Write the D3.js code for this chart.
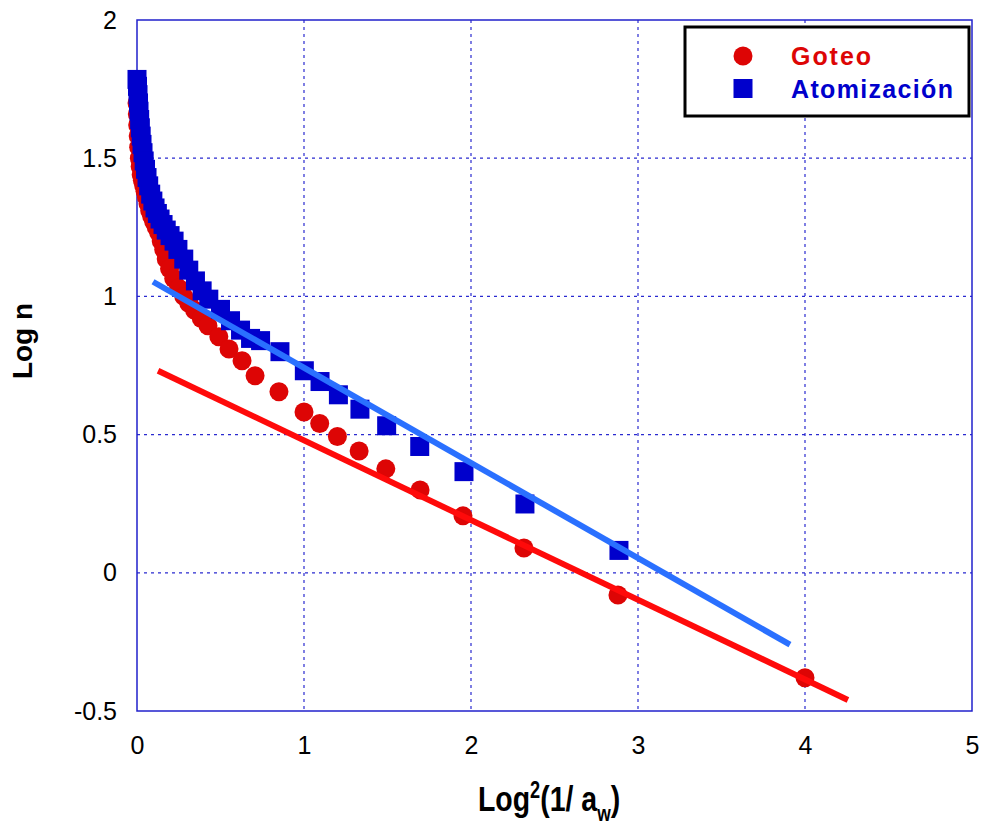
<!DOCTYPE html>
<html><head><meta charset="utf-8">
<script src="https://cdn.jsdelivr.net/npm/d3@7"></script>
<style>body{margin:0;background:#fff}svg{display:block}</style>
</head><body>
<svg id="c" width="983" height="829"></svg>
<script>
// Data
const xTicks = [0, 1, 2, 3, 4, 5];
const yTicks = [-0.5, 0, 0.5, 1, 1.5, 2];
const seriesNames = ["Goteo", "Atomización"];

const goteoX = [0.000,0.002,0.004,0.007,0.010,0.014,0.019,0.025,0.032,0.040,0.048,0.056,0.066,0.076,0.088,0.100,0.115,0.130,0.145,0.160,0.175,0.195,0.220,0.250,0.280,0.310,0.345,0.385,0.425,0.490,0.551,0.629,0.707,0.850,1.000,1.094,1.200,1.330,1.490,1.695,1.952,2.317,2.880,4.000];
const goteoY = [1.700,1.660,1.620,1.580,1.540,1.500,1.470,1.440,1.420,1.400,1.380,1.360,1.335,1.310,1.290,1.270,1.250,1.230,1.200,1.170,1.135,1.100,1.065,1.030,1.000,0.975,0.950,0.920,0.894,0.854,0.810,0.767,0.713,0.655,0.582,0.540,0.493,0.441,0.376,0.300,0.206,0.090,-0.080,-0.380];

const atomX = [0.000,0.003,0.006,0.009,0.012,0.016,0.020,0.025,0.030,0.036,0.043,0.051,0.060,0.070,0.082,0.095,0.108,0.122,0.138,0.156,0.175,0.198,0.222,0.245,0.280,0.310,0.350,0.390,0.430,0.500,0.560,0.620,0.680,0.740,0.856,1.002,1.096,1.206,1.335,1.495,1.693,1.958,2.323,2.886];
const atomY = [1.785,1.760,1.730,1.700,1.670,1.640,1.610,1.580,1.550,1.520,1.490,1.460,1.430,1.400,1.370,1.345,1.320,1.300,1.280,1.260,1.240,1.220,1.200,1.170,1.135,1.095,1.056,1.020,0.990,0.953,0.912,0.878,0.848,0.840,0.800,0.731,0.692,0.644,0.592,0.532,0.457,0.366,0.249,0.081];

// Fitted lines (endpoints)
const goteoFitX = [0.126, 4.257];
const goteoFitY = [0.731, -0.460];
const atomFitX = [0.096, 3.910];
const atomFitY = [1.053, -0.260];

const svg = d3.select("#c");
const x = d3.scaleLinear().domain([0, 5]).range([137, 972]);
const y = d3.scaleLinear().domain([-0.5, 2]).range([711, 20]);
const FONT = "Liberation Sans, Arial, sans-serif";

const gridCol = "#2a2ad0";
// grid
const g = svg.append("g");
g.selectAll(".gx").data(xTicks.slice(1, -1)).join("line")
  .attr("x1", d => x(d)).attr("x2", d => x(d)).attr("y1", y(2)).attr("y2", y(-0.5))
  .attr("stroke", gridCol).attr("stroke-width", 1.2).attr("stroke-dasharray", "3,4");
g.selectAll(".gy").data(yTicks.slice(1, -1)).join("line")
  .attr("y1", d => y(d)).attr("y2", d => y(d)).attr("x1", x(0)).attr("x2", x(5))
  .attr("stroke", gridCol).attr("stroke-width", 1.2).attr("stroke-dasharray", "3,4");

// frame
svg.append("rect").attr("x", x(0)).attr("y", y(2)).attr("width", x(5) - x(0)).attr("height", y(-0.5) - y(2))
  .attr("fill", "none").attr("stroke", "#2020cc").attr("stroke-width", 1.5);

// axes tick labels (using d3 axes, lines hidden)
const xAxis = svg.append("g").attr("transform", `translate(0,${y(-0.5)})`)
  .call(d3.axisBottom(x).tickValues(xTicks).tickFormat(d3.format("d")).tickSize(0).tickPadding(25));
const yAxis = svg.append("g").attr("transform", `translate(${x(0)},0)`)
  .call(d3.axisLeft(y).tickValues(yTicks).tickFormat(d => String(d)).tickSize(0).tickPadding(20));
[xAxis, yAxis].forEach(a => {
  a.select(".domain").remove();
  a.selectAll("text").attr("font-family", FONT).attr("font-size", 25).attr("fill", "#000");
});

// points
const goteo = goteoX.map((v, i) => [v, goteoY[i]]);
const atom = atomX.map((v, i) => [v, atomY[i]]);
svg.append("g").selectAll("circle").data(goteo).join("circle")
  .attr("cx", d => x(d[0])).attr("cy", d => y(d[1])).attr("r", 9.5).attr("fill", "#dd0505");
svg.append("g").selectAll("rect").data(atom).join("rect")
  .attr("x", d => x(d[0]) - 9.5).attr("y", d => y(d[1]) - 9.5).attr("width", 19).attr("height", 19)
  .attr("fill", "#0000cc");

// fit lines
const line = d3.line().x(d => x(d[0])).y(d => y(d[1]));
svg.append("path").attr("d", line(goteoFitX.map((v, i) => [v, goteoFitY[i]])))
  .attr("stroke", "#ff0a0a").attr("stroke-width", 6).attr("fill", "none");
svg.append("path").attr("d", line(atomFitX.map((v, i) => [v, atomFitY[i]])))
  .attr("stroke", "#2a70ff").attr("stroke-width", 6).attr("fill", "none");

// legend
const lg = svg.append("g");
lg.append("rect").attr("x", 685).attr("y", 27).attr("width", 284).attr("height", 89)
  .attr("fill", "#fff").attr("stroke", "#000").attr("stroke-width", 3);
lg.append("circle").attr("cx", 743).attr("cy", 56).attr("r", 9.5).attr("fill", "#dd0505");
lg.append("rect").attr("x", 733.5).attr("y", 79).attr("width", 19).attr("height", 19).attr("fill", "#0000cc");
lg.append("text").attr("x", 791).attr("y", 65).text(seriesNames[0])
  .attr("font-family", FONT).attr("font-weight", "bold")
  .attr("font-size", 25).attr("fill", "#dd0505").attr("textLength", 80);
lg.append("text").attr("x", 791).attr("y", 98).text(seriesNames[1])
  .attr("font-family", FONT).attr("font-weight", "bold")
  .attr("font-size", 25).attr("fill", "#0000cc").attr("textLength", 162);

// axis titles
svg.append("text").attr("transform", "translate(32,341) rotate(-90)").attr("text-anchor", "middle")
  .attr("font-family", FONT).attr("font-weight", "bold")
  .attr("font-size", 28).attr("fill", "#000").text("Log n");
const xt = svg.append("text").attr("transform", "translate(478,811) scale(0.79,1)")
  .attr("font-family", FONT).attr("font-weight", "bold")
  .attr("font-size", 36).attr("fill", "#000");
xt.append("tspan").text("Log");
xt.append("tspan").attr("font-size", 23).attr("dy", -13).text("2");
xt.append("tspan").attr("dy", 13).text("(1/ a");
xt.append("tspan").attr("font-size", 22).attr("dy", 10).text("w");
xt.append("tspan").attr("dy", -10).text(")");
</script>
</body></html>
